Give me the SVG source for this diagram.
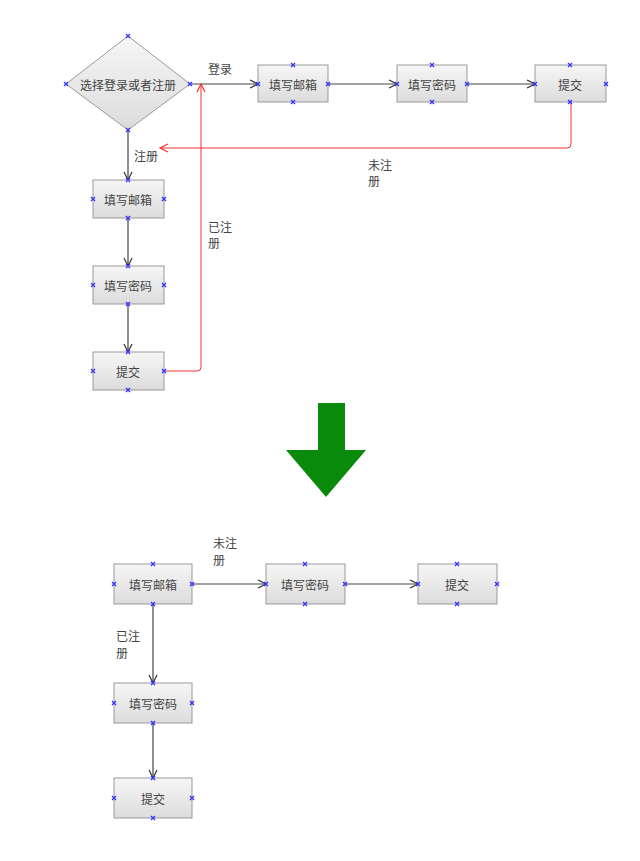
<svg xmlns="http://www.w3.org/2000/svg" width="640" height="861" viewBox="0 0 640 861">
<defs>
<linearGradient id="g" x1="0" y1="0" x2="0" y2="1"><stop offset="0" stop-color="#f6f6f6"/><stop offset="1" stop-color="#dcdcdc"/></linearGradient>
<marker id="a" markerWidth="10" markerHeight="10" refX="9" refY="5" orient="auto" markerUnits="userSpaceOnUse"><path d="M1,1 L9,5 L1,9" fill="none" stroke="#333" stroke-width="1.2"/></marker>
<marker id="r" markerWidth="10" markerHeight="10" refX="9" refY="5" orient="auto" markerUnits="userSpaceOnUse"><path d="M1,1 L9,5 L1,9" fill="none" stroke="#e33" stroke-width="1.2"/></marker>
<g id="x"><path d="M-2,-2 L2,2 M-2,2 L2,-2" stroke="#33f" stroke-width="1.3"/></g>
</defs>
<style>
.b{fill:url(#g);stroke:#999;stroke-width:1}
.t{font-family:"Noto Sans CJK SC",sans-serif;font-size:12px;fill:#444;text-anchor:middle;dominant-baseline:central}
.l{font-family:"Noto Sans CJK SC",sans-serif;font-size:12px;fill:#444}
.c{fill:none;stroke:#444;stroke-width:1.2}
.rc{fill:none;stroke:#e33;stroke-width:1}
</style>
<rect width="640" height="861" fill="#fff"/>
<g id="connectors">
<path class="c" d="M190,84 H258" marker-end="url(#a)"/>
<path class="c" d="M328,84 H397" marker-end="url(#a)"/>
<path class="c" d="M467,84 H535" marker-end="url(#a)"/>
<path class="c" d="M128,130 V180" marker-end="url(#a)"/>
<path class="c" d="M128,218 V266" marker-end="url(#a)"/>
<path class="c" d="M128,304 V352" marker-end="url(#a)"/>
<path class="rc" d="M165,371 H197 Q201,371 201,367 V84" marker-end="url(#r)"/>
<path class="rc" d="M571,102 V144 Q571,148 567,148 H160" marker-end="url(#r)"/>
<path class="c" d="M192,584 H266" marker-end="url(#a)"/>
<path class="c" d="M345,584 H418" marker-end="url(#a)"/>
<path class="c" d="M153,604 V683" marker-end="url(#a)"/>
<path class="c" d="M153,723 V778" marker-end="url(#a)"/>
</g>
<text class="l" x="208" y="74">登录</text>
<text class="l" x="134" y="161">注册</text>
<text class="l" x="368" y="170">未注</text><text class="l" x="368" y="186">册</text>
<text class="l" x="208" y="232">已注</text><text class="l" x="208" y="248">册</text>
<text class="l" x="213" y="548">未注</text><text class="l" x="213" y="565">册</text>
<text class="l" x="116" y="641">已注</text><text class="l" x="116" y="658">册</text>
<g id="decision"><path class="b" d="M128,36 L190,84 L128,130 L66,84 Z"/><text class="t" x="128" y="84">选择登录或者注册</text>
<use href="#x" x="128" y="36"/><use href="#x" x="190" y="84"/><use href="#x" x="128" y="130"/><use href="#x" x="66" y="84"/></g>
<g id="n1"><rect class="b" x="258" y="65" width="70" height="37"/><text class="t" x="293" y="84">填写邮箱</text><use href="#x" x="293" y="65"/><use href="#x" x="328" y="84"/><use href="#x" x="293" y="102"/><use href="#x" x="258" y="84"/></g>
<g id="n2"><rect class="b" x="397" y="65" width="70" height="37"/><text class="t" x="432" y="84">填写密码</text><use href="#x" x="432" y="65"/><use href="#x" x="467" y="84"/><use href="#x" x="432" y="102"/><use href="#x" x="397" y="84"/></g>
<g id="n3"><rect class="b" x="535" y="65" width="71" height="37"/><text class="t" x="570" y="84">提交</text><use href="#x" x="570" y="65"/><use href="#x" x="606" y="84"/><use href="#x" x="570" y="102"/><use href="#x" x="535" y="84"/></g>
<g id="n4"><rect class="b" x="93" y="180" width="71" height="38"/><text class="t" x="128" y="199">填写邮箱</text><use href="#x" x="128" y="180"/><use href="#x" x="164" y="199"/><use href="#x" x="128" y="218"/><use href="#x" x="93" y="199"/></g>
<g id="n5"><rect class="b" x="93" y="266" width="71" height="38"/><text class="t" x="128" y="285">填写密码</text><use href="#x" x="128" y="266"/><use href="#x" x="164" y="285"/><use href="#x" x="128" y="304"/><use href="#x" x="93" y="285"/></g>
<g id="n6"><rect class="b" x="93" y="352" width="71" height="38"/><text class="t" x="128" y="371">提交</text><use href="#x" x="128" y="352"/><use href="#x" x="164" y="371"/><use href="#x" x="128" y="390"/><use href="#x" x="93" y="371"/></g>
<g id="bigarrow"><path d="M318,403 H345 V450 H366 L326,497 L286,450 H318 Z" fill="#0a8a0a"/></g>
<g id="m1"><rect class="b" x="114" y="564" width="78" height="40"/><text class="t" x="153" y="584">填写邮箱</text><use href="#x" x="153" y="564"/><use href="#x" x="192" y="584"/><use href="#x" x="153" y="604"/><use href="#x" x="114" y="584"/></g>
<g id="m2"><rect class="b" x="266" y="564" width="79" height="40"/><text class="t" x="305" y="584">填写密码</text><use href="#x" x="305" y="564"/><use href="#x" x="345" y="584"/><use href="#x" x="305" y="604"/><use href="#x" x="266" y="584"/></g>
<g id="m3"><rect class="b" x="418" y="564" width="79" height="40"/><text class="t" x="457" y="584">提交</text><use href="#x" x="457" y="564"/><use href="#x" x="497" y="584"/><use href="#x" x="457" y="604"/><use href="#x" x="418" y="584"/></g>
<g id="m4"><rect class="b" x="114" y="683" width="78" height="40"/><text class="t" x="153" y="703">填写密码</text><use href="#x" x="153" y="683"/><use href="#x" x="192" y="703"/><use href="#x" x="153" y="723"/><use href="#x" x="114" y="703"/></g>
<g id="m5"><rect class="b" x="114" y="778" width="78" height="40"/><text class="t" x="153" y="798">提交</text><use href="#x" x="153" y="778"/><use href="#x" x="192" y="798"/><use href="#x" x="153" y="818"/><use href="#x" x="114" y="798"/></g>
</svg>
